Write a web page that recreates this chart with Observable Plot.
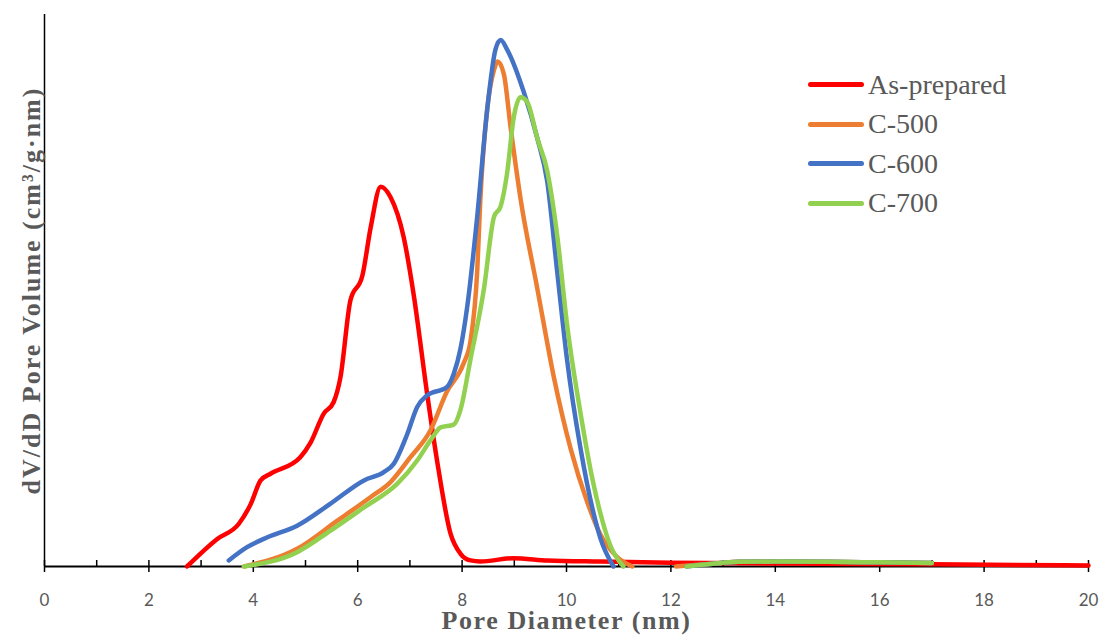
<!DOCTYPE html>
<html><head><meta charset="utf-8">
<script src="https://cdn.jsdelivr.net/npm/d3@7"></script>
<script src="https://cdn.jsdelivr.net/npm/@observablehq/plot@0.6"></script>
<style>
body{margin:0;background:#fff;}
#wrap{position:relative;width:1105px;height:637px;}
#legend{position:absolute;left:808px;top:65px;font-family:"Liberation Serif","Times New Roman",serif;font-size:28px;color:#595959;}
.row{display:flex;align-items:center;height:39.5px;white-space:nowrap;}
.sw{width:56px;height:5px;border-radius:3px;margin-right:4px;}
</style></head><body><div id="wrap"><div id="legend"></div></div>
<script>
const seriesNames = ["As-prepared", "C-500", "C-600", "C-700"];
const seriesColors = ["#FF0000", "#ED7D31", "#4472C4", "#92D050"];

const asPrepX = [2.73,3.31,3.72,3.95,4.14,4.33,4.90,5.10,5.35,5.54,5.67,5.86,6.09,6.25,6.44,6.63,6.88,7.07,7.33,7.52,7.78,7.97,8.16,8.35,8.98,9.64,10.65,12,14,17,20];
const asPrepY = [0,5.0,7.7,11.3,15.6,16.8,19.8,22.5,27.7,29.8,34.3,48.2,52.7,61.5,68.8,66.9,59.7,49.4,31.3,19.2,5.9,2.3,1.1,0.9,1.5,1.1,0.9,0.7,0.55,0.4,0.2];

const c500X = [3.82,4.84,5.61,6.25,6.63,7.01,7.39,7.71,8.03,8.16,8.29,8.35,8.48,8.61,8.68,8.80,8.93,9.12,9.44,9.76,10.08,10.40,10.65,10.94,11.26,11.7,12.1,12.8,13.3,14,15,16,17];
const c500Y = [0,3.2,8.3,12.6,15.3,19.8,24.6,31.7,36.8,40.8,53.6,66.6,82.8,89.9,91.5,89.2,79.5,66.6,50.4,34.2,21.3,11.6,5.8,2.0,0,NaN,0,0.5,0.85,0.9,0.85,0.75,0.65];

const c600X = [3.53,3.88,4.27,4.84,5.48,6.12,6.50,6.69,6.95,7.14,7.33,7.71,7.84,7.97,8.10,8.29,8.48,8.64,8.74,8.86,9.18,9.44,9.63,9.82,10.01,10.27,10.52,10.65,10.90,11.6,12.3,12.8,13.3,14,15,16,17];
const c600Y = [1.1,3.5,5.3,7.4,11.4,15.6,17.1,18.6,24.0,28.9,31.0,32.5,34.9,39.5,47.2,63.4,82.7,93.7,95.4,93.7,86.0,77.6,69.8,53.6,37.5,21.3,9.6,5.1,0,NaN,0,0.5,0.85,0.9,0.85,0.75,0.65];

const c700X = [3.82,4.84,5.48,6.12,6.76,7.14,7.39,7.59,7.84,7.97,8.16,8.42,8.61,8.74,8.86,8.99,9.12,9.25,9.44,9.63,9.82,10.01,10.27,10.52,10.65,10.84,11.09,11.7,12.3,12.8,13.3,14,15,16,17];
const c700Y = [0,2.6,6.5,10.7,15.0,19.2,22.8,25.2,25.7,28.4,37.5,50.4,63.3,65.3,71.1,81.4,85.0,84.1,77.6,71.7,60.1,43.9,27.7,14.8,9.6,3.8,0,NaN,0,0.5,0.85,0.9,0.85,0.75,0.65];

const majorTicks = [0,2,4,6,8,10,12,14,16,18,20];
const minorTicks = [1,3,5,7,9,11,13,15,17,19];
const xTitle = "Pore Diameter (nm)";
const yTitle = "dV/dD Pore Volume (cm³/g·nm)";

const xs = [asPrepX, c500X, c600X, c700X];
const ys = [asPrepY, c500Y, c600Y, c700Y];
const tables = xs.map((X, i) => X.map((x, j) => ({series: seriesNames[i], x, y: ys[i][j]})));

const lineMarks = tables.map((t, i) => Plot.line(t, {
  x: "x", y: "y", stroke: seriesColors[i], strokeWidth: 4.5,
  curve: "monotone-x", strokeLinecap: "round", strokeLinejoin: "round"
}));

const serif = "'Liberation Serif', 'Times New Roman', serif";

const chart = Plot.plot({
  width: 1105, height: 637,
  marginLeft: 44, marginRight: 17, marginTop: 14, marginBottom: 71,
  x: {domain: [0, 20], label: null},
  y: {domain: [0, 100], axis: null, label: null},
  style: {background: "white", overflow: "visible"},
  marks: [
    Plot.ruleX([0], {stroke: "black", strokeWidth: 1.5}),
    Plot.ruleY([0], {stroke: "black", strokeWidth: 2}),
    Plot.axisX({ticks: majorTicks, tickSize: 12, dy: -6, tickFormat: () => "", label: null, stroke: "black", strokeWidth: 1.5}),
    Plot.axisX({ticks: minorTicks, tickSize: 6, dy: -6, tickFormat: () => "", label: null, stroke: "black", strokeWidth: 1.5}),
    Plot.axisX({ticks: majorTicks, tickSize: 0, tickPadding: 27, label: null, fontSize: 17,
      fontFamily: "Lato, 'Open Sans', sans-serif", fill: "#595959", color: "#595959"}),
    ...lineMarks,
    Plot.text([xTitle], {text: d => d, frameAnchor: "bottom", lineAnchor: "middle", textAnchor: "middle", dy: 54, fontSize: 26, fontWeight: "bold",
      fontFamily: serif, fill: "#595959"}),
    Plot.text([yTitle], {text: d => d, frameAnchor: "left", lineAnchor: "middle", textAnchor: "middle", rotate: -90, dx: -13, fontSize: 26, fontWeight: "bold",
      fontFamily: serif, fill: "#595959"})
  ]
});
d3.select(chart).selectAll("text").filter(function() { return this.textContent === xTitle; }).style("letter-spacing", "1.6px");
d3.select(chart).selectAll("text").filter(function() { return this.textContent === yTitle; }).style("letter-spacing", "2px");
document.getElementById("wrap").prepend(chart);

const legend = document.getElementById("legend");
seriesNames.forEach((name, i) => {
  const row = document.createElement("div");
  row.className = "row";
  const sw = document.createElement("span");
  sw.className = "sw";
  sw.style.background = seriesColors[i];
  const label = document.createElement("span");
  label.textContent = name;
  row.appendChild(sw);
  row.appendChild(label);
  legend.appendChild(row);
});
</script>
</body></html>
